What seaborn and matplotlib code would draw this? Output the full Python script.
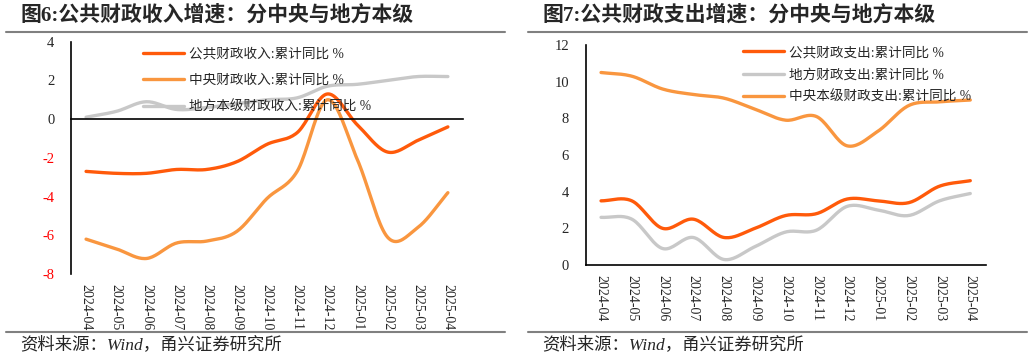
import matplotlib
matplotlib.use("Agg")
import matplotlib.pyplot as plt
import seaborn as sb
import numpy as np

months = ["2024-04", "2024-05", "2024-06", "2024-07", "2024-08", "2024-09", "2024-10",
          "2024-11", "2024-12", "2025-01", "2025-02", "2025-03", "2025-04"]

# 图6 收入
rev_total = [-2.7, -2.8, -2.8, -2.6, -2.6, -2.2, -1.3, -0.7, 1.3, -0.3, -1.7, -1.1, -0.4]
rev_central = [-6.2, -6.7, -7.2, -6.4, -6.3, -5.8, -4.1, -2.7, 1.0, -2.1, -6.1, -5.6, -3.8]
rev_local = [0.1, 0.4, 0.9, 0.5, 0.6, 0.8, 1.0, 1.1, 1.7, 1.8, 2.0, 2.2, 2.2]

# 图7 支出
exp_total = [3.5, 3.5, 2.0, 2.5, 1.5, 2.0, 2.7, 2.8, 3.6, 3.5, 3.4, 4.3, 4.6]
exp_local = [2.6, 2.5, 0.9, 1.5, 0.3, 1.0, 1.8, 1.9, 3.2, 3.0, 2.7, 3.5, 3.9]
exp_central = [10.5, 10.3, 9.6, 9.3, 9.1, 8.5, 7.9, 8.1, 6.5, 7.3, 8.7, 8.9, 9.0]

DARK = "#FF5A0A"
LIGHT = "#F9963F"
GRAY = "#C8C8C8"

sb.set_style("white")
plt.rcParams['font.family'] = ['Liberation Serif', 'Noto Sans CJK SC']
plt.rcParams['axes.unicode_minus'] = False
FONTS = ['Liberation Serif', 'Noto Sans CJK SC']


def smooth(y, n=20):
    # Catmull-Rom curve through the points, like an Excel smoothed line
    y = np.asarray(y, dtype=float)
    p = np.concatenate([[2 * y[0] - y[1]], y, [2 * y[-1] - y[-2]]])
    xs, ys = [], []
    for i in range(len(y) - 1):
        t = np.linspace(0, 1, n, endpoint=False)
        p0, p1, p2, p3 = p[i], p[i + 1], p[i + 2], p[i + 3]
        v = 0.5 * (2 * p1 + (-p0 + p2) * t + (2 * p0 - 5 * p1 + 4 * p2 - p3) * t ** 2
                   + (-p0 + 3 * p1 - 3 * p2 + p3) * t ** 3)
        xs.extend(i + t)
        ys.extend(v)
    xs.append(len(y) - 1)
    ys.append(y[-1])
    return np.array(xs), np.array(ys)


def panel(ax, series, ylim, yticks, label_pad):
    for vals, color, name in series:
        xs, ys = smooth(vals)
        sb.lineplot(x=xs, y=ys, ax=ax, color=color, lw=2.4, label=name, sort=False)
    ax.set_xlim(-0.5, len(months) - 0.5)
    ax.set_ylim(*ylim)
    ax.set_yticks(yticks)
    ax.set_xticks(np.arange(0.5, len(months), 1))
    ax.set_xticklabels([])
    for s in ['top', 'right']:
        ax.spines[s].set_visible(False)
    for s in ['left', 'bottom']:
        ax.spines[s].set_color('black')
        ax.spines[s].set_linewidth(1.2)
    ax.tick_params(axis='x', direction='in', length=3, width=1.2, color='black')
    ax.tick_params(axis='y', direction='in', length=3, width=1.2, color='black',
                   labelsize=10.5, pad=12)
    sec = ax.secondary_xaxis('bottom')
    sec.set_xticks(range(len(months)))
    sec.set_xticklabels(months, rotation=270, fontsize=10, va='top', ha='center')
    sec.tick_params(length=0, pad=label_pad)
    sec.spines['bottom'].set_visible(False)


fig = plt.figure(figsize=(10.32, 3.59), dpi=100)

ax1 = fig.add_axes([0.0688, 0.2368, 0.3798, 0.647])
panel(ax1, [(rev_total, DARK, "公共财政收入:累计同比 %"),
            (rev_central, LIGHT, "中央财政收入:累计同比 %"),
            (rev_local, GRAY, "地方本级财政收入:累计同比 %")],
      (-8, 4), range(-8, 5, 2), 7)
ax1.spines['bottom'].set_position(('data', 0))
for t in ax1.get_yticklabels():
    if t.get_text().startswith('-') or t.get_text().startswith('−'):
        t.set_color('red')
ax1.legend(loc='upper left', bbox_to_anchor=(0.184, 0.975), frameon=False,
           borderpad=0, borderaxespad=0, handlelength=3.0, handletextpad=0.4,
           labelspacing=1.0, prop={'family': FONTS, 'size': 9.8})

ax2 = fig.add_axes([0.5675, 0.2618, 0.3876, 0.6128])
panel(ax2, [(exp_total, DARK, "公共财政支出:累计同比 %"),
            (exp_local, GRAY, "地方财政支出:累计同比 %"),
            (exp_central, LIGHT, "中央本级财政支出:累计同比 %")],
      (0, 12), range(0, 13, 2), 7)
ax2.legend(loc='upper left', bbox_to_anchor=(0.393, 0.995), frameon=False,
           borderpad=0, borderaxespad=0, handlelength=3.0, handletextpad=0.4,
           labelspacing=0.68, prop={'family': FONTS, 'size': 9.8})

# titles, rules and source notes
W, H = 1032, 359
for x0, x1, title in [(6, 505, "图6:公共财政收入增速：分中央与地方本级"),
                      (528, 1027, "图7:公共财政支出增速：分中央与地方本级")]:
    fig.text((x0 + 14) / W, 1 - 15 / H, title, fontsize=15, fontweight='bold',
             family=FONTS, va='center', ha='left')
    for yy in (31.5, 332):
        fig.add_artist(plt.Line2D([x0 / W, x1 / W], [1 - yy / H, 1 - yy / H],
                                  color='#808080', lw=1.5))
    fig.text((x0 + 14) / W, 1 - 345 / H, "资料来源：Wind，甬兴证券研究所",
             fontsize=12.5, style='italic', family=FONTS, va='center', ha='left')

fig.savefig("out.png", dpi=100)
